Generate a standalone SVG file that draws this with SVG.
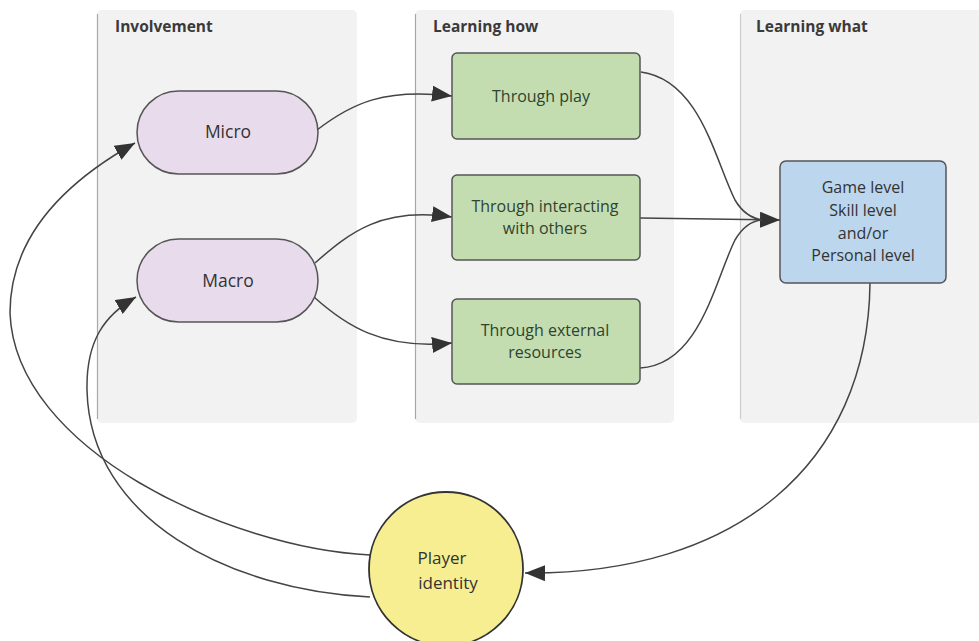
<svg xmlns="http://www.w3.org/2000/svg" width="979" height="641" viewBox="0 0 979 641">
<defs>
<marker id="arr" markerUnits="userSpaceOnUse" markerWidth="22" markerHeight="16" refX="20" refY="8" orient="auto">
<path d="M0,0 L20,8 L0,16 Z" fill="#333"/>
</marker>
<style>
.panel{fill:#f2f2f2;}
.edge{stroke:#a8a8a8;stroke-width:1.2;}
.hdr{font-family:"Open Sans","Noto Sans","Liberation Sans",sans-serif;font-weight:bold;font-size:15.5px;fill:#3a3a3a;}
.t{font-family:"Open Sans","Noto Sans","Liberation Sans",sans-serif;font-size:16px;fill:#333;text-anchor:middle;}
.tg{fill:#2f432f;}
.pill{fill:#e8dcec;stroke:#555;stroke-width:1.5;}
.green{fill:#c3ddb1;stroke:#555;stroke-width:1.5;}
.blue{fill:#bcd6ed;stroke:#555;stroke-width:1.5;}
.yellow{fill:#f6ee91;stroke:#333;stroke-width:1.8;}
.c{fill:none;stroke:#444;stroke-width:1.5;}
</style>
</defs>
<rect width="979" height="641" fill="#fff"/>
<g id="panel-involvement">
<rect class="panel" x="97" y="10" width="260" height="413" rx="5"/>
<line class="edge" x1="97.5" y1="14" x2="97.5" y2="419"/>
<text class="hdr" x="115" y="32">Involvement</text>
</g>
<g id="panel-learning-how">
<rect class="panel" x="415" y="10" width="259" height="413" rx="5"/>
<line class="edge" x1="415.5" y1="14" x2="415.5" y2="419"/>
<text class="hdr" x="433" y="32">Learning how</text>
</g>
<g id="panel-learning-what">
<rect class="panel" x="740" y="10" width="245" height="413" rx="5"/>
<line class="edge" x1="740.5" y1="14" x2="740.5" y2="419" style="stroke:#ccc"/>
<text class="hdr" x="756" y="32">Learning what</text>
</g>
<g id="connectors">
<path class="c" d="M317,130 C352,103 385,88 452,96" marker-end="url(#arr)"/>
<path class="c" d="M315,263 C350,232 382,207 452,217" marker-end="url(#arr)"/>
<path class="c" d="M314,297 C345,325 382,350 452,343" marker-end="url(#arr)"/>
<path class="c" d="M641,72 C700,80 715,160 735,200 C742,212 750,218 762,220"/>
<path class="c" d="M640,218 L780,220" marker-end="url(#arr)"/>
<path class="c" d="M640,368 C700,365 715,280 735,240 C742,228 750,221 762,220"/>
<path class="c" d="M870,283 C868,465 735,575 525,573" marker-end="url(#arr)"/>
<path class="c" d="M370,555 C230,548 15,450 10,313 C10,240 60,185 135,143" marker-end="url(#arr)"/>
<path class="c" d="M370,597 C230,590 90,520 87,390 C86,340 105,315 136,297" marker-end="url(#arr)"/>
</g>
<g id="micro">
<rect class="pill" x="137" y="91" width="181" height="83" rx="41.5"/>
<text class="t" x="228" y="138" style="font-size:17.5px">Micro</text>
</g>
<g id="macro">
<rect class="pill" x="137" y="239" width="181" height="83" rx="41.5"/>
<text class="t" x="228" y="287" style="font-size:17.5px">Macro</text>
</g>
<g id="through-play">
<rect class="green" x="452" y="53" width="188" height="86" rx="5"/>
<text class="t tg" x="541" y="102">Through play</text>
</g>
<g id="through-interacting">
<rect class="green" x="452" y="175" width="188" height="85" rx="5"/>
<text class="t tg" x="545" y="212">Through interacting</text>
<text class="t tg" x="545" y="234">with others</text>
</g>
<g id="through-external">
<rect class="green" x="452" y="299" width="188" height="85" rx="5"/>
<text class="t tg" x="545" y="336">Through external</text>
<text class="t tg" x="545" y="358">resources</text>
</g>
<g id="learning-what-levels">
<rect class="blue" x="780" y="161" width="166" height="122" rx="6"/>
<text class="t" x="863" y="193">Game level</text>
<text class="t" x="863" y="216">Skill level</text>
<text class="t" x="863" y="239">and/or</text>
<text class="t" x="863" y="261">Personal level</text>
</g>
<g id="player-identity">
<circle class="yellow" cx="446" cy="569" r="77"/>
<text class="t" x="442" y="564" style="font-size:17px">Player</text>
<text class="t" x="448" y="589" style="font-size:17px">identity</text>
</g>
</svg>
